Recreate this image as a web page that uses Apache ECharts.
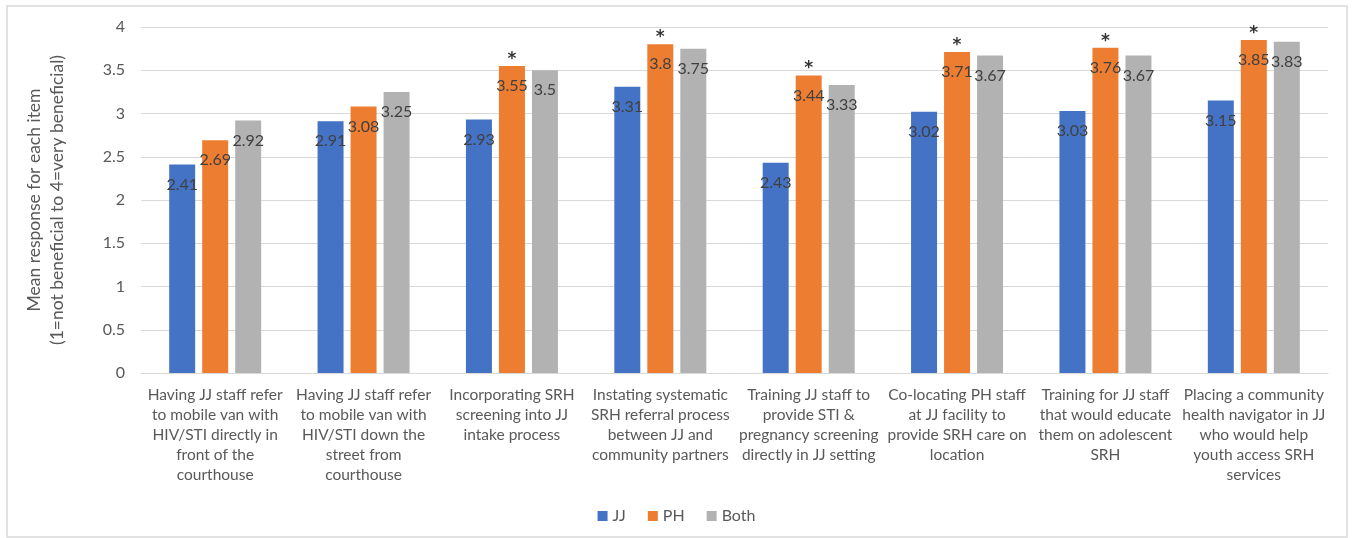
<!DOCTYPE html>
<html>
<head>
<meta charset="utf-8">
<script src="https://cdn.jsdelivr.net/npm/echarts@6/dist/echarts.min.js"></script>
<style>
  html, body { margin: 0; padding: 0; background: #fff; }
  #chart { width: 1353px; height: 538px; }
</style>
</head>
<body>
<div id="chart"></div>
<script>
var categories = [
  'Having JJ staff refer\nto mobile van with\nHIV/STI directly in\nfront of the\ncourthouse',
  'Having JJ staff refer\nto mobile van with\nHIV/STI down the\nstreet from\ncourthouse',
  'Incorporating SRH\nscreening into JJ\nintake process',
  'Instating systematic\nSRH referral process\nbetween JJ and\ncommunity partners',
  'Training JJ staff to\nprovide STI &\npregnancy screening\ndirectly in JJ setting',
  'Co-locating PH staff\nat JJ facility to\nprovide SRH care on\nlocation',
  'Training for JJ staff\nthat would educate\nthem on adolescent\nSRH',
  'Placing a community\nhealth navigator in JJ\nwho would help\nyouth access SRH\nservices'
];
var jjValues = [2.41, 2.91, 2.93, 3.31, 2.43, 3.02, 3.03, 3.15];
var phValues = [2.69, 3.08, 3.55, 3.8, 3.44, 3.71, 3.76, 3.85];
var bothValues = [2.92, 3.25, 3.5, 3.75, 3.33, 3.67, 3.67, 3.83];
// significant difference marked with * above the PH bar
var phStar = [false, false, true, true, true, true, true, true];

var font = 'Lato, "Open Sans", sans-serif';

var starData = [];
for (var i = 0; i < phValues.length; i++) {
  starData.push(phStar[i] ? phValues[i] : '-');
}

var barLabel = {
  show: true,
  position: 'insideTop',
  distance: 11,
  color: '#404040',
  fontFamily: font,
  fontSize: 16,
  lineHeight: 18
};

var myChart = echarts.init(document.getElementById('chart'));
var option = {
  animation: false,
  color: ['#4472c4', '#ed7d31', '#b2b2b2'],
  graphic: [{
    type: 'rect',
    shape: { x: 7, y: 6, width: 1340, height: 531 },
    style: { fill: 'none', stroke: '#d9d9d9', lineWidth: 1.5 },
    silent: true
  }],
  legend: {
    data: ['JJ', 'PH', 'Both'],
    bottom: 9,
    left: 'center',
    itemWidth: 10,
    itemHeight: 10,
    itemGap: 22,
    icon: 'rect',
    textStyle: { color: '#595959', fontFamily: font, fontSize: 16 }
  },
  grid: { left: 141, right: 25, top: 27, bottom: 165 },
  xAxis: {
    type: 'category',
    data: categories,
    axisLine: { lineStyle: { color: '#d9d9d9' } },
    axisTick: { show: false },
    axisLabel: {
      interval: 0,
      color: '#595959',
      fontFamily: font,
      fontSize: 15.5,
      lineHeight: 20,
      margin: 12
    }
  },
  yAxis: {
    type: 'value',
    min: 0,
    max: 4,
    interval: 0.5,
    name: 'Mean response for each item\n(1=not beneficial to 4=very beneficial)',
    nameLocation: 'middle',
    nameGap: 72,
    nameTextStyle: { color: '#595959', fontFamily: font, fontSize: 17.5, lineHeight: 23 },
    axisLine: { show: false },
    axisTick: { show: false },
    splitLine: { lineStyle: { color: '#d9d9d9' } },
    axisLabel: { color: '#595959', fontFamily: font, fontSize: 16, margin: 16 }
  },
  series: [
    { name: 'JJ', type: 'bar', data: jjValues, barGap: '27%', barCategoryGap: '38%', label: barLabel },
    { name: 'PH', type: 'bar', data: phValues, label: barLabel },
    { name: 'Both', type: 'bar', data: bothValues, label: barLabel },
    {
      name: 'sig',
      type: 'scatter',
      data: starData,
      symbolSize: 0,
      z: 5,
      label: {
        show: true,
        position: 'top',
        distance: -2,
        formatter: '*',
        color: '#000',
        fontFamily: 'DejaVu Sans',
        fontWeight: 'bold',
        fontSize: 17
      }
    }
  ]
};
myChart.setOption(option);
</script>
</body>
</html>
